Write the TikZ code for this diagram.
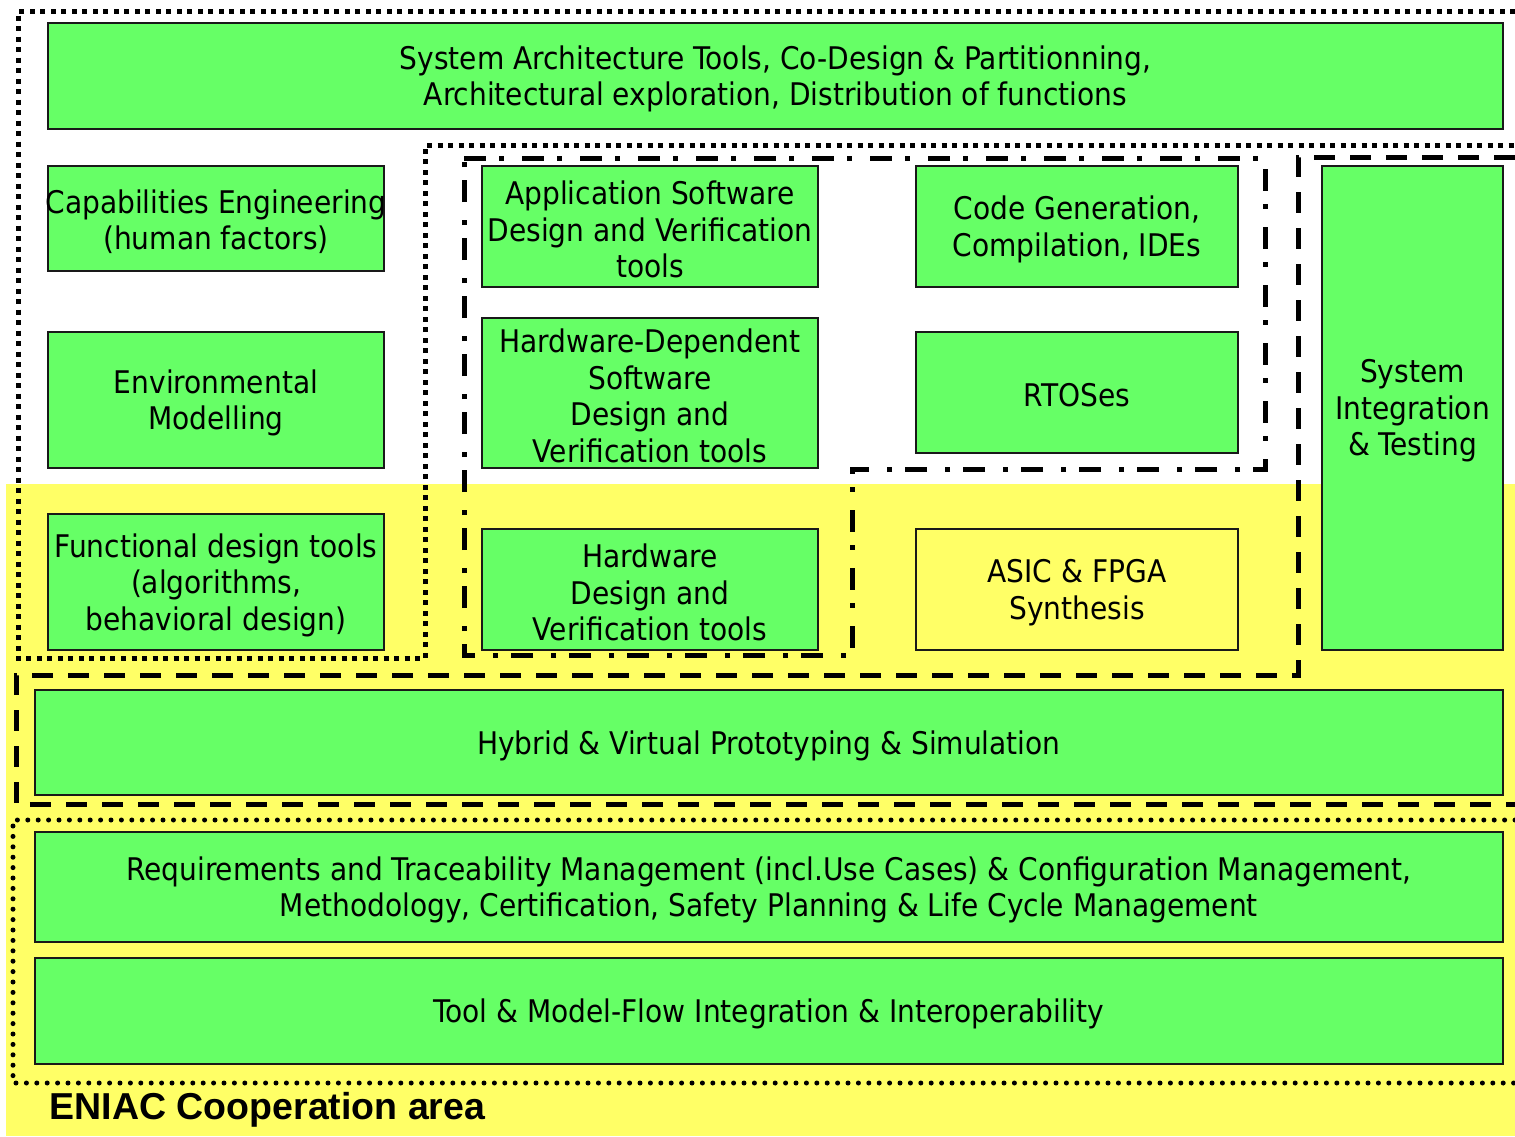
\documentclass[tikz,border=0pt]{standalone}
\usepackage{fontspec}
\setmainfont{DejaVu Sans Condensed}
\newfontfamily\eniacfont{Liberation Sans}
\definecolor{boxgreen}{HTML}{66FF66}
\definecolor{areayellow}{HTML}{FFFF66}

\tikzset{
  box/.style={rectangle, draw=black!90, line width=1.6pt, fill=boxgreen, inner sep=0pt},
  boxtext/.style={align=center, inner sep=0pt, yshift=-3pt, font=\fontsize{31.2}{36.5}\selectfont},
  sqdotted/.style={line width=5pt, dash pattern=on 5pt off 5.5pt},
  dashdotline/.style={line width=5pt, dash pattern=on 22pt off 13pt on 5pt off 18pt},
  longdashed/.style={line width=5pt, dash pattern=on 21pt off 15pt},
  rounddotted/.style={line width=5pt, line cap=round, dash pattern=on 0pt off 10.4pt},
}

% \ToolBox[options]{name}{cx}{cy}{width}{height}{text}
\newcommand\ToolBox[7][]{%
  \node[box, minimum width=#5pt, minimum height=#6pt, #1] (#2) at (#3,#4) {};
  \node[boxtext] (#2-text) at (#2.center) {#7};}

\begin{document}
\begin{tikzpicture}[x=1pt,y=-1pt]
\useasboundingbox (0,0) rectangle (1515,1136);
\fill[white] (0,0) rectangle (1515,1136);
% cooperation area
\fill[areayellow] (6,484) rectangle (1515,1136);

% tool boxes
\ToolBox{sysarch}{775.5}{76}{1455}{106}{System Architecture Tools, Co-Design \& Partitionning,\\Architectural exploration, Distribution of functions}
\ToolBox{capab}{216}{218.5}{336}{105}{Capabilities Engineering\\(human factors)}
\ToolBox{envmod}{216}{400}{336}{136}{Environmental\\Modelling}
\ToolBox{funcdes}{216}{582}{336}{136}{Functional design tools\\(algorithms,\\behavioral design)}
\ToolBox{appsw}{650}{226.5}{336}{121}{Application Software\\Design and Verification\\tools}
\ToolBox{hdsw}{650}{393}{336}{150}{Hardware-Dependent\\Software\\Design and\\Verification tools}
\ToolBox{hwdes}{650}{589.5}{336}{121}{Hardware\\Design and\\Verification tools}
\ToolBox{codegen}{1077}{226.5}{322}{121}{Code Generation,\\Compilation, IDEs}
\ToolBox{rtos}{1077}{392.5}{322}{121}{RTOSes}
\ToolBox[fill=areayellow]{asic}{1077}{589.5}{322}{121}{ASIC \& FPGA\\Synthesis}
\ToolBox{sysint}{1412.5}{408}{181}{484}{System\\Integration\\\& Testing}
\ToolBox{hybrid}{769}{742.5}{1468}{105}{Hybrid \& Virtual Prototyping \& Simulation}
\ToolBox{reqs}{769}{887}{1468}{110}{Requirements and Traceability Management (incl.Use Cases) \& Configuration Management,\\Methodology, Certification, Safety Planning \& Life Cycle Management}
\ToolBox{toolflow}{769}{1011}{1468}{106}{Tool \& Model-Flow Integration \& Interoperability}

% grouping outlines
\draw[sqdotted] (1515,11) -- (18,11) -- (18,658) -- (425,658) -- (425,145) -- (1515,145);
\draw[dashdotline] (464,158) -- (1265,158) -- (1265,469) -- (852,469) -- (852,655) -- (464,655) -- cycle;
\draw[longdashed] (1515,157) -- (1298,157) -- (1298,675) -- (16,675) -- (16,804) -- (1515,804);
\draw[rounddotted] (1515,820) -- (13,820) -- (13,1083) -- (1515,1083);

\node[font=\eniacfont\bfseries\fontsize{37.5}{45}\selectfont, inner sep=0pt, anchor=base west] (eniac) at (49.5,1119) {ENIAC Cooperation area};
\end{tikzpicture}
\end{document}
